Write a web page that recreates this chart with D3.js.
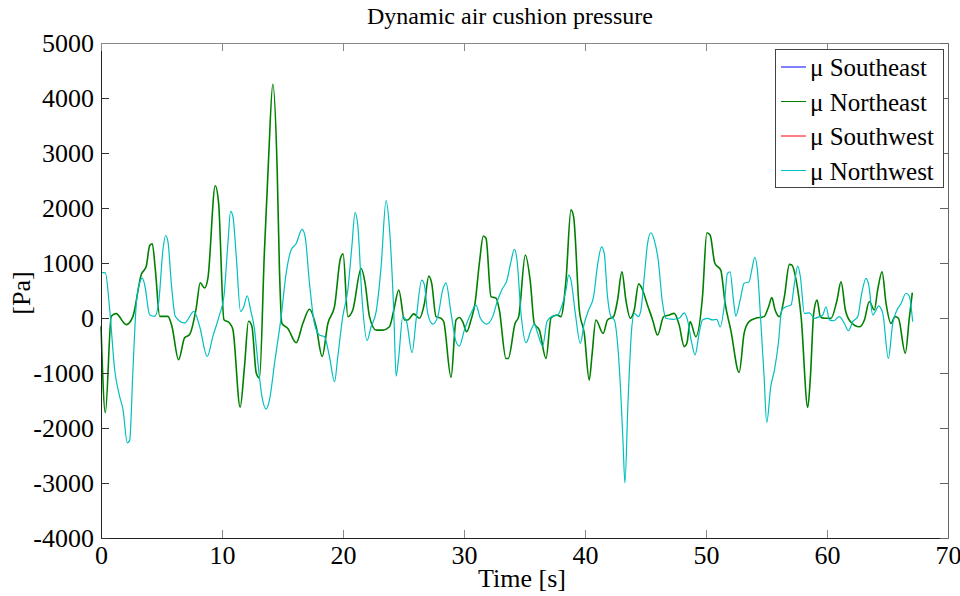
<!DOCTYPE html>
<html>
<head>
<meta charset="utf-8">
<script src="https://cdn.jsdelivr.net/npm/d3@7"></script>
<style>
  body { margin: 0; background: #fff; }
  text { font-family: "Liberation Serif", "Times New Roman", serif; fill: #000; }
</style>
</head>
<body>
<div id="chart"></div>
<script>
    var width = 960,
        height = 596;

// values (time in s, pressure in Pa)

    var seriesNames = ["\u03bc Southeast", "\u03bc Northeast", "\u03bc Southwest", "\u03bc Northwest"];
    var seriesColors = ["#0000ff", "#008000", "#ff0000", "#00bfbf"];
    var xTicks = [0, 10, 20, 30, 40, 50, 60, 70];
    var yTicks = [-4000, -3000, -2000, -1000, 0, 1000, 2000, 3000, 4000, 5000];

    var neTime = [0, 0.36, 0.85, 1.24, 2.09, 2.64, 3.33, 3.74, 4.02, 4.24, 4.49, 4.85, 5.53, 5.86, 6.41, 6.91, 7.32, 7.87, 8.2, 8.56, 8.84, 9.44, 9.72, 10.16, 10.62, 10.9, 11.5, 11.86, 12.19, 12.47, 12.83, 13.1, 13.5, 13.85, 14.2, 14.56, 14.75, 14.95, 15.44, 16.13, 16.68, 17.23, 17.78, 18.28, 18.75, 19.3, 19.79, 20.01, 20.4, 20.81, 21.5, 21.83, 22.19, 22.74, 23.29, 23.84, 24.2, 24.61, 25.08, 25.35, 25.85, 26.31, 26.73, 27.09, 27.33, 27.69, 28.1, 28.32, 28.93, 29.34, 29.62, 29.89, 30.22, 30.58, 30.91, 31.27, 31.6, 31.82, 32.23, 32.65, 32.92, 33.47, 33.66, 34.22, 34.52, 35.07, 35.48, 35.81, 36.23, 36.78, 37.19, 37.66, 38.01, 38.43, 38.84, 39.06, 39.53, 39.94, 40.35, 40.57, 40.9, 41.5, 41.86, 42.36, 42.69, 43.05, 43.38, 43.74, 44.07, 44.43, 44.76, 45.12, 45.59, 46.0, 46.5, 46.96, 47.37, 47.78, 48.2, 48.42, 48.69, 49.16, 49.71, 50.07, 50.34, 50.73, 51.22, 51.58, 52.05, 52.74, 53.15, 53.56, 54.11, 54.8, 55.16, 55.44, 55.71, 56.07, 56.48, 56.89, 57.09, 57.45, 57.86, 58.41, 58.63, 58.9, 59.18, 59.45, 59.78, 60.33, 60.83, 61.16, 61.52, 61.93, 62.67, 63.09, 63.5, 63.91, 64.19, 64.55, 64.88, 65.29, 65.62, 65.9, 66.47, 66.8, 67.05];
    var neValues = [-150, -1720, 30, 80, -120, 30, 790, 940, 1315, 1350, 880, 30, 30, -150, -760, -360, -300, 180, 640, 545, 730, 2405, 2090, -30, -90, -210, -1620, -880, -60, -150, -1000, -1090, 1180, 2900, 4250, 2700, 870, -100, -190, -450, -100, 160, -160, -700, -100, 210, 1085, 1165, 25, 145, 900, 630, 25, -220, -220, -160, 145, 510, -35, -35, 75, -5, 265, 765, 630, 25, -5, -65, -1080, -35, 10, -65, -250, -35, 265, 995, 1490, 1450, 390, 360, 145, -735, -735, -100, 25, 1145, 660, -100, -220, -735, 0, 55, 25, 690, 1965, 1840, 145, -280, -1130, -700, -35, -280, -35, 25, 325, 840, 325, -5, 145, 620, 510, 265, -35, -310, 25, 55, 85, -125, -520, -460, -65, -340, 390, 1550, 1510, 995, 870, 265, -220, -990, -280, -65, -5, 25, 195, 370, 145, 25, 390, 975, 965, 690, 25, -1625, -1065, 85, 325, 25, -5, -5, 325, 660, 145, -65, -160, -35, 300, 145, 510, 840, 265, -100, 25, -5, -640, -5, 460];

    var nwTime = [0, 0.36, 0.72, 1.13, 1.54, 1.82, 2.17, 2.37, 2.64, 2.92, 3.19, 3.41, 3.61, 4.02, 4.43, 4.76, 5.12, 5.34, 5.53, 5.81, 6.14, 6.91, 7.68, 8.15, 8.78, 9.25, 9.8, 10.16, 10.49, 10.71, 10.9, 11.18, 11.53, 11.81, 12.08, 12.36, 12.69, 12.97, 13.3, 13.65, 13.93, 14.34, 14.89, 15.3, 15.71, 16.13, 16.62, 16.87, 17.23, 17.64, 18.06, 18.47, 18.88, 19.3, 19.57, 19.98, 20.4, 20.73, 21.0, 21.22, 21.58, 21.99, 22.32, 22.74, 23.15, 23.56, 23.84, 24.2, 24.39, 24.61, 24.94, 25.22, 25.71, 26.04, 26.51, 26.73, 27.0, 27.42, 27.83, 28.24, 28.51, 28.93, 29.34, 29.62, 30.03, 30.58, 30.99, 31.35, 31.88, 32.37, 32.78, 33.14, 33.55, 33.88, 34.16, 34.38, 34.71, 35.13, 35.54, 35.81, 36.09, 36.5, 36.86, 37.24, 37.74, 38.07, 38.43, 38.65, 38.84, 39.2, 39.61, 39.94, 40.3, 40.71, 41.04, 41.37, 41.59, 41.86, 42.14, 42.42, 42.69, 42.97, 43.15, 43.3, 43.55, 43.85, 44.07, 44.4, 44.62, 44.9, 45.17, 45.45, 45.72, 46.05, 46.41, 46.69, 47.24, 47.78, 48.2, 48.47, 48.8, 49.1, 49.43, 49.71, 50.12, 50.54, 50.89, 51.17, 51.5, 51.77, 51.99, 52.27, 52.46, 52.82, 53.15, 53.56, 53.78, 54.03, 54.25, 54.52, 54.8, 55.02, 55.35, 55.66, 55.98, 56.26, 56.62, 57.03, 57.31, 57.58, 57.8, 58.13, 58.55, 58.96, 59.37, 59.65, 59.92, 60.2, 60.56, 61.02, 61.44, 61.77, 62.13, 62.54, 62.87, 63.23, 63.45, 63.78, 64.06, 64.25, 64.61, 65.07, 65.43, 65.79, 66.12, 66.53, 66.8, 67.08];
    var nwValues = [830, 820, 150, -940, -1425, -1665, -2270, -2225, -940, 270, 635, 725, 605, 60, 30, 270, 1240, 1500, 1395, 635, 30, -90, 120, -150, -700, -330, 60, 395, 1365, 1940, 1850, 1120, 120, 210, 405, 150, -210, -820, -1425, -1655, -1485, -825, 25, 810, 1235, 1355, 1610, 1480, 630, -100, -310, -340, -700, -1160, -700, 25, 510, 1295, 1915, 1690, 325, -410, -160, 115, 935, 2135, 1630, 85, -1055, -700, 25, -35, -630, -35, 690, 600, 85, -110, 25, 510, 640, 85, -430, -510, -220, 85, 235, -5, -110, 25, 325, 520, 690, 1025, 1250, 1055, 85, -450, -220, -110, -280, -510, -65, 25, 55, 205, 510, 780, 690, 85, -460, -100, 145, 390, 965, 1295, 1175, 390, 25, -35, -460, -1430, -2300, -3000, -1550, -220, 85, 25, 145, 750, 1355, 1550, 1420, 1055, 265, -5, -25, -5, 95, -35, -430, -670, -280, -35, -5, -35, -25, -160, 205, 810, 840, 325, 35, 325, 630, 660, 870, 1105, 870, -35, -1065, -1900, -1250, -945, -460, 145, 205, 235, 630, 945, 750, 85, 95, -5, 25, 55, 205, -35, -50, 25, -100, -230, -65, 25, 450, 720, 600, 55, 145, 220, 85, -735, -100, 145, 265, 450, 400, -65];

    // southeast and southwest are hidden under northeast / northwest in the
    // original, so only the two visible traces get drawn (legend keeps all 4)
    var drawn = [
        { time: neTime, values: neValues, color: seriesColors[1], width: 1.6 },
        { time: nwTime, values: nwValues, color: seriesColors[3], width: 1.2 }
    ];

    var plotLeft = 101, plotRight = 948, plotTop = 43, plotBottom = 538;

    var svg = d3.select("#chart").append("svg")
        .attr("width", width)
        .attr("height", height);

    var x = d3.scaleLinear().domain([0, 70]).range([plotLeft, plotRight]);
    var y = d3.scaleLinear().domain([-4000, 5000]).range([plotBottom, plotTop]);

    // lines
    var line = d3.line()
        .x(function (d) { return x(d[0]); })
        .y(function (d) { return y(d[1]); })
        .curve(d3.curveMonotoneX);

    drawn.forEach(function (s) {
        var pts = s.time.map(function (t, j) { return [t, s.values[j]]; });
        svg.append("path")
            .datum(pts)
            .attr("fill", "none")
            .attr("stroke", s.color)
            .attr("stroke-width", s.width)
            .attr("stroke-linejoin", "round")
            .attr("d", line);
    });

    // axes, MATLAB style: ticks point inward on all four sides
    var tickLen = 8;
    var plain = function (d) { return String(d); };
    svg.append("g")
        .attr("transform", "translate(0," + plotBottom + ")")
        .call(d3.axisBottom(x).tickValues(xTicks).tickFormat(plain).tickSizeInner(-tickLen).tickSizeOuter(0).tickPadding(10))
        .call(function (g) {
            g.select(".domain").attr("stroke", "#222");
            g.selectAll(".tick line").attr("stroke", "#888");
            g.selectAll(".tick text").style("font-size", "26px").attr("dy", "0.6em");
        });
    svg.append("g")
        .attr("transform", "translate(" + plotLeft + ",0)")
        .call(d3.axisLeft(y).tickValues(yTicks).tickFormat(plain).tickSizeInner(-tickLen).tickSizeOuter(0).tickPadding(7))
        .call(function (g) {
            g.select(".domain").attr("stroke", "#222");
            g.selectAll(".tick line").attr("stroke", "#333");
            g.selectAll(".tick text").style("font-size", "26px").attr("dy", "0.34em");
        });
    svg.append("g")
        .attr("transform", "translate(0," + plotTop + ")")
        .call(d3.axisTop(x).tickValues(xTicks).tickSizeInner(-tickLen).tickSizeOuter(0).tickFormat(""))
        .call(function (g) {
            g.select(".domain").attr("stroke", "#888");
            g.selectAll(".tick line").attr("stroke", "#888");
        });
    svg.append("g")
        .attr("transform", "translate(" + plotRight + ",0)")
        .call(d3.axisRight(y).tickValues(yTicks).tickSizeInner(-tickLen).tickSizeOuter(0).tickFormat(""))
        .call(function (g) {
            g.select(".domain").attr("stroke", "#666");
            g.selectAll(".tick line").attr("stroke", "#666");
        });

    // titles
    svg.append("text")
        .attr("x", 510)
        .attr("y", 24)
        .style("text-anchor", "middle")
        .style("font-size", "24px")
        .text("Dynamic air cushion pressure");

    svg.append("text")
        .attr("x", 522)
        .attr("y", 587)
        .style("text-anchor", "middle")
        .style("font-size", "26px")
        .text("Time [s]");

    svg.append("text")
        .attr("transform", "translate(30,293) rotate(-90)")
        .style("text-anchor", "middle")
        .style("font-size", "26px")
        .text("[Pa]");

    // legend
    var legend = svg.append("g");
    legend.append("rect")
        .attr("x", 775.5)
        .attr("y", 49.5)
        .attr("width", 168)
        .attr("height", 138)
        .attr("fill", "#fff")
        .attr("stroke", "#444");

    var rows = legend.selectAll("g.row")
        .data(seriesNames)
        .enter()
        .append("g")
        .attr("transform", function (d, i) { return "translate(0," + (67 + i * 34.5) + ")"; });
    rows.append("line")
        .attr("x1", 781).attr("x2", 806)
        .attr("y1", 0).attr("y2", 0)
        .attr("stroke", function (d, i) { return seriesColors[i]; })
        .attr("stroke-width", 1);
    rows.append("text")
        .attr("x", 810)
        .attr("y", 9)
        .style("font-size", "25px")
        .text(function (d) { return d; });
</script>
</body>
</html>
